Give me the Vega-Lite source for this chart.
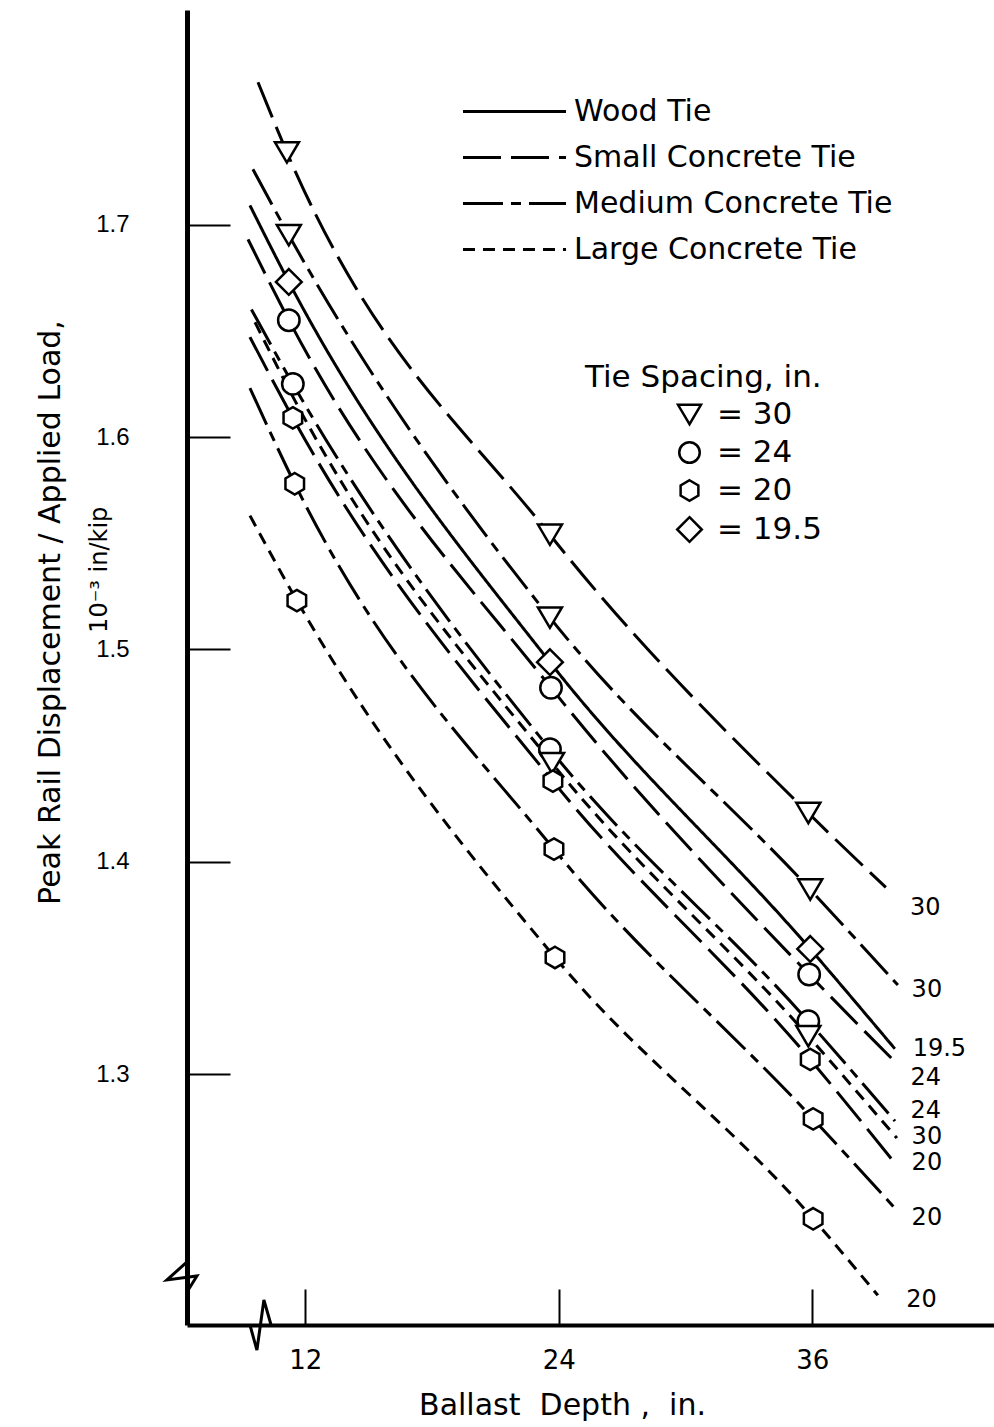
{
  "$schema": "https://vega.github.io/schema/vega-lite/v6.json",
  "width": 807,
  "height": 1315,
  "autosize": {"type": "none"},
  "padding": {"left": 187, "top": 10, "right": 0, "bottom": 102},
  "background": "white",
  "config": {
    "view": {"stroke": null},
    "font": "DejaVu Sans",
    "axis": {"grid": false, "domainColor": "black", "tickColor": "black", "labelColor": "black", "titleColor": "black", "titleFontWeight": "normal"}
  },
  "datasets": {
    "curves": [
      {"series": "S1", "tie": "Small Concrete Tie", "spacing": "30", "kind": "curve", "x": 9.76, "y": 1.767},
      {"series": "S1", "tie": "Small Concrete Tie", "spacing": "30", "kind": "test", "x": 11.13, "y": 1.734},
      {"series": "S1", "tie": "Small Concrete Tie", "spacing": "30", "kind": "test", "x": 23.58, "y": 1.554},
      {"series": "S1", "tie": "Small Concrete Tie", "spacing": "30", "kind": "test", "x": 35.81, "y": 1.423},
      {"series": "S1", "tie": "Small Concrete Tie", "spacing": "30", "kind": "curve", "x": 39.48, "y": 1.388},
      {"series": "S2", "tie": "Medium Concrete Tie", "spacing": "30", "kind": "curve", "x": 9.52, "y": 1.726},
      {"series": "S2", "tie": "Medium Concrete Tie", "spacing": "30", "kind": "test", "x": 11.22, "y": 1.695},
      {"series": "S2", "tie": "Medium Concrete Tie", "spacing": "30", "kind": "test", "x": 23.58, "y": 1.515},
      {"series": "S2", "tie": "Medium Concrete Tie", "spacing": "30", "kind": "test", "x": 35.9, "y": 1.387},
      {"series": "S2", "tie": "Medium Concrete Tie", "spacing": "30", "kind": "curve", "x": 40.05, "y": 1.342},
      {"series": "S3", "tie": "Wood Tie", "spacing": "19.5", "kind": "curve", "x": 9.38, "y": 1.709},
      {"series": "S3", "tie": "Wood Tie", "spacing": "19.5", "kind": "test", "x": 11.22, "y": 1.673},
      {"series": "S3", "tie": "Wood Tie", "spacing": "19.5", "kind": "test", "x": 23.58, "y": 1.494},
      {"series": "S3", "tie": "Wood Tie", "spacing": "19.5", "kind": "test", "x": 35.9, "y": 1.359},
      {"series": "S3", "tie": "Wood Tie", "spacing": "19.5", "kind": "curve", "x": 39.91, "y": 1.312},
      {"series": "S4", "tie": "Small Concrete Tie", "spacing": "24", "kind": "curve", "x": 9.29, "y": 1.693},
      {"series": "S4", "tie": "Small Concrete Tie", "spacing": "24", "kind": "test", "x": 11.22, "y": 1.655},
      {"series": "S4", "tie": "Small Concrete Tie", "spacing": "24", "kind": "test", "x": 23.63, "y": 1.482},
      {"series": "S4", "tie": "Small Concrete Tie", "spacing": "24", "kind": "test", "x": 35.85, "y": 1.347},
      {"series": "S4", "tie": "Small Concrete Tie", "spacing": "24", "kind": "curve", "x": 40.0, "y": 1.305},
      {"series": "S5", "tie": "Medium Concrete Tie", "spacing": "24", "kind": "curve", "x": 9.45, "y": 1.66},
      {"series": "S5", "tie": "Medium Concrete Tie", "spacing": "24", "kind": "test", "x": 11.41, "y": 1.625},
      {"series": "S5", "tie": "Medium Concrete Tie", "spacing": "24", "kind": "test", "x": 23.58, "y": 1.453},
      {"series": "S5", "tie": "Medium Concrete Tie", "spacing": "24", "kind": "test", "x": 35.81, "y": 1.325},
      {"series": "S5", "tie": "Medium Concrete Tie", "spacing": "24", "kind": "curve", "x": 39.91, "y": 1.278},
      {"series": "S6", "tie": "Large Concrete Tie", "spacing": "30", "kind": "curve", "x": 9.62, "y": 1.654},
      {"series": "S6", "tie": "Large Concrete Tie", "spacing": "30", "kind": "curve", "x": 11.41, "y": 1.619},
      {"series": "S6", "tie": "Large Concrete Tie", "spacing": "30", "kind": "test", "x": 23.68, "y": 1.4465},
      {"series": "S6", "tie": "Large Concrete Tie", "spacing": "30", "kind": "test", "x": 35.81, "y": 1.318},
      {"series": "S6", "tie": "Large Concrete Tie", "spacing": "30", "kind": "curve", "x": 40.0, "y": 1.27},
      {"series": "S7", "tie": "Small Concrete Tie", "spacing": "20", "kind": "curve", "x": 9.38, "y": 1.647},
      {"series": "S7", "tie": "Small Concrete Tie", "spacing": "20", "kind": "test", "x": 11.41, "y": 1.609},
      {"series": "S7", "tie": "Small Concrete Tie", "spacing": "20", "kind": "test", "x": 23.72, "y": 1.438},
      {"series": "S7", "tie": "Small Concrete Tie", "spacing": "20", "kind": "test", "x": 35.9, "y": 1.307},
      {"series": "S7", "tie": "Small Concrete Tie", "spacing": "20", "kind": "curve", "x": 39.76, "y": 1.26},
      {"series": "S8", "tie": "Medium Concrete Tie", "spacing": "20", "kind": "curve", "x": 9.38, "y": 1.623},
      {"series": "S8", "tie": "Medium Concrete Tie", "spacing": "20", "kind": "test", "x": 11.5, "y": 1.578},
      {"series": "S8", "tie": "Medium Concrete Tie", "spacing": "20", "kind": "test", "x": 23.77, "y": 1.406},
      {"series": "S8", "tie": "Medium Concrete Tie", "spacing": "20", "kind": "test", "x": 36.04, "y": 1.279},
      {"series": "S8", "tie": "Medium Concrete Tie", "spacing": "20", "kind": "curve", "x": 40.0, "y": 1.236},
      {"series": "S9", "tie": "Large Concrete Tie", "spacing": "20", "kind": "curve", "x": 9.38, "y": 1.563},
      {"series": "S9", "tie": "Large Concrete Tie", "spacing": "20", "kind": "test", "x": 11.6, "y": 1.523},
      {"series": "S9", "tie": "Large Concrete Tie", "spacing": "20", "kind": "test", "x": 23.82, "y": 1.355},
      {"series": "S9", "tie": "Large Concrete Tie", "spacing": "20", "kind": "test", "x": 36.04, "y": 1.232},
      {"series": "S9", "tie": "Large Concrete Tie", "spacing": "20", "kind": "curve", "x": 39.1, "y": 1.196}
    ],
    "endLabels": [
      {"label": "30", "x": 40.62, "y": 1.3783},
      {"label": "30", "x": 40.7, "y": 1.3397},
      {"label": "19.5", "x": 40.75, "y": 1.312},
      {"label": "24", "x": 40.65, "y": 1.2983},
      {"label": "24", "x": 40.65, "y": 1.2829},
      {"label": "30", "x": 40.7, "y": 1.2705},
      {"label": "20", "x": 40.7, "y": 1.2581},
      {"label": "20", "x": 40.7, "y": 1.2324},
      {"label": "20", "x": 40.45, "y": 1.1938}
    ],
    "notes": [
      {"label": "10⁻³ in/kip", "x": 2.28, "y": 1.5375, "role": "ytitle"},
      {"label": "Tie Spacing, in.", "x": 25.24, "y": 1.6279, "role": "legend"}
    ],
    "breaks": [
      {"part": "y", "i": 1, "x": 6.4, "y": 1.2117},
      {"part": "y", "i": 2, "x": 5.45, "y": 1.2032},
      {"part": "y", "i": 3, "x": 6.87, "y": 1.2051},
      {"part": "y", "i": 4, "x": 6.4, "y": 1.1975},
      {"part": "x", "i": 1, "x": 9.38, "y": 1.182},
      {"part": "x", "i": 2, "x": 9.71, "y": 1.1702},
      {"part": "x", "i": 3, "x": 10.04, "y": 1.1938},
      {"part": "x", "i": 4, "x": 10.38, "y": 1.182}
    ]
  },
  "layer": [
    {
      "data": {"name": "curves"},
      "mark": {"type": "line", "interpolate": "monotone", "strokeWidth": 3, "color": "black"},
      "encoding": {
        "x": {
          "field": "x", "type": "quantitative",
          "scale": {"domain": [6.4, 44.6], "nice": false, "zero": false},
          "axis": {
            "title": "Ballast\u00a0 Depth ,\u00a0 in.",
            "titleFontSize": 30, "titleX": 375, "titleY": 80, "titleBaseline": "middle", "titleAlign": "center",
            "values": [12, 24, 36], "format": "d",
            "tickSize": -36, "tickWidth": 2, "domainWidth": 4,
            "labelFontSize": 26, "labelPadding": 58, "labelFont": "DejaVu Sans"
          }
        },
        "y": {
          "field": "y", "type": "quantitative",
          "scale": {"domain": [1.182, 1.801], "nice": false, "zero": false},
          "axis": {
            "title": "Peak Rail Displacement / Applied Load,",
            "titleFontSize": 30, "titleX": -137, "titleY": 602, "titleAngle": -90, "titleBaseline": "middle", "titleAlign": "center",
            "values": [1.3, 1.4, 1.5, 1.6, 1.7], "format": ".1f",
            "tickSize": -43, "tickWidth": 2, "domainWidth": 5,
            "labelFontSize": 24, "labelFont": "Liberation Sans", "labelPadding": 101
          }
        },
        "detail": {"field": "series", "type": "nominal"},
        "strokeDash": {
          "field": "tie", "type": "nominal",
          "scale": {
            "domain": ["Wood Tie", "Small Concrete Tie", "Medium Concrete Tie", "Large Concrete Tie"],
            "range": [[1, 0], [38, 10], [40, 8, 10, 8], [12, 8]]
          },
          "legend": {
            "title": null, "orient": "none", "legendX": 303, "legendY": 77,
            "symbolType": "M-2.24,0L2.24,0", "symbolSize": 2116, "symbolStrokeWidth": 3, "symbolStrokeColor": "black",
            "labelFontSize": 30, "labelOffset": 35, "rowPadding": 6, "labelColor": "black", "labelLimit": 0
          }
        }
      }
    },
    {
      "data": {"name": "curves"},
      "transform": [{"filter": "datum.kind == 'test'"}],
      "mark": {"type": "point", "filled": true, "color": "white", "fill": "white", "stroke": "black", "strokeWidth": 2.5, "opacity": 1, "size": 460},
      "encoding": {
        "x": {"field": "x", "type": "quantitative"},
        "y": {"field": "y", "type": "quantitative"},
        "shape": {
          "field": "spacing", "type": "nominal",
          "scale": {
            "domain": ["30", "24", "20", "19.5"],
            "range": ["M0,0.95L-1.12,-0.95L1.12,-0.95Z", "circle", "M0,-1L0.866,-0.5L0.866,0.5L0,1L-0.866,0.5L-0.866,-0.5Z", "M0,-1.2L1.2,0L0,1.2L-1.2,0Z"]
          },
          "legend": {
            "title": null, "orient": "none", "legendX": 487, "legendY": 389,
            "labelFontSize": 31, "labelColor": "black", "labelExpr": "'= ' + datum.label", "labelLimit": 0, "labelOffset": 12,
            "symbolSize": 420, "symbolStrokeWidth": 2.5,
            "rowPadding": 6,
            "encode": {
              "symbols": {
                "update": {
                  "stroke": {"value": "black"},
                  "fill": {"value": "white"},
                  "strokeWidth": {"value": 2.5},
                  "size": {"value": 420},
                  "opacity": {"value": 1}
                }
              }
            }
          }
        }
      }
    },
    {
      "data": {"name": "endLabels"},
      "mark": {"type": "text", "align": "left", "baseline": "middle", "fontSize": 24, "color": "black"},
      "encoding": {
        "x": {"field": "x", "type": "quantitative"},
        "y": {"field": "y", "type": "quantitative"},
        "text": {"field": "label", "type": "nominal"}
      }
    },
    {
      "data": {"name": "notes"},
      "transform": [{"filter": "datum.role == 'ytitle'"}],
      "mark": {"type": "text", "align": "center", "baseline": "middle", "fontSize": 24, "angle": 270, "color": "black"},
      "encoding": {
        "x": {"field": "x", "type": "quantitative"},
        "y": {"field": "y", "type": "quantitative"},
        "text": {"field": "label", "type": "nominal"}
      }
    },
    {
      "data": {"name": "notes"},
      "transform": [{"filter": "datum.role == 'legend'"}],
      "mark": {"type": "text", "align": "left", "baseline": "middle", "fontSize": 31, "color": "black"},
      "encoding": {
        "x": {"field": "x", "type": "quantitative"},
        "y": {"field": "y", "type": "quantitative"},
        "text": {"field": "label", "type": "nominal"}
      }
    },
    {
      "data": {"name": "breaks"},
      "mark": {"type": "line", "color": "black", "strokeWidth": 3},
      "encoding": {
        "x": {"field": "x", "type": "quantitative"},
        "y": {"field": "y", "type": "quantitative"},
        "detail": {"field": "part", "type": "nominal"},
        "order": {"field": "i", "type": "quantitative"}
      }
    }
  ]
}
